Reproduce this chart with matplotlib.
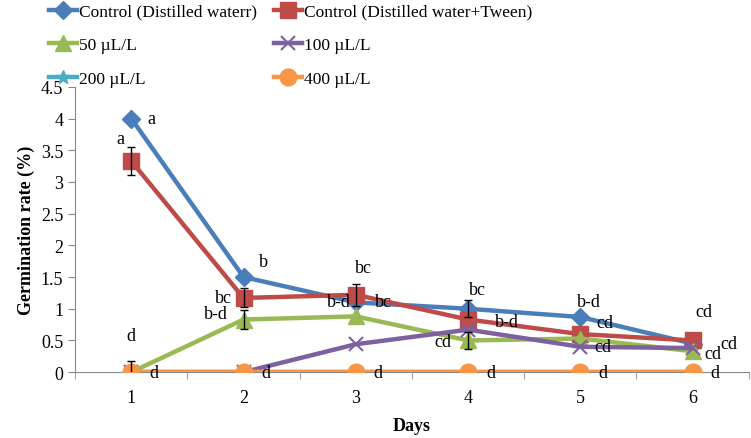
import numpy as np
import matplotlib.pyplot as plt

plt.rcParams['font.family'] = ['Liberation Serif', 'DejaVu Serif']

days = [1, 2, 3, 4, 5, 6]
ctrl_water = [4.0, 1.5, 1.1, 1.0, 0.87, 0.45]
ctrl_tween = [3.33, 1.17, 1.22, 0.83, 0.6, 0.5]
c50 = [0.0, 0.83, 0.88, 0.5, 0.53, 0.33]
c100 = [0.0, 0.0, 0.44, 0.67, 0.4, 0.38]
c200 = [0, 0, 0, 0, 0, 0]
c400 = [0, 0, 0, 0, 0, 0]
err_water = [0, 0, 0, 0.13, 0, 0]
err_tween = [0.22, 0.15, 0.17, 0, 0, 0]
err_50 = [0.17, 0.15, 0, 0.13, 0, 0]

# letter labels: (text, x, y)
letters = [
    ('a', 1.18, 4.0), ('a', 0.9, 3.68), ('b', 2.18, 1.75), ('bc', 1.82, 1.17),
    ('b-d', 1.75, 0.93), ('d', 1.0, 0.58),
    ('bc', 3.07, 1.65), ('b-d', 2.85, 1.12), ('bc', 3.25, 1.12),
    ('bc', 4.08, 1.3), ('b-d', 4.35, 0.8), ('cd', 3.78, 0.48),
    ('b-d', 5.08, 1.12), ('cd', 5.22, 0.78), ('cd', 5.2, 0.4),
    ('cd', 6.1, 0.95), ('cd', 6.32, 0.45), ('cd', 6.18, 0.3),
]

fig = plt.figure(figsize=(7.51, 4.39), dpi=100)
ax = fig.add_axes([0.1, 0.15, 0.897, 0.65])

lw = 3.2
h1, = ax.plot(days, ctrl_water, color='#4a7ebb', lw=lw, marker='D', ms=9, zorder=3,
              label='Control (Distilled waterr)')
h2, = ax.plot(days, ctrl_tween, color='#be4b48', lw=lw, marker='s', ms=11, zorder=3,
              label='Control (Distilled water+Tween)')
h3, = ax.plot(days, c50, color='#98b954', lw=lw, marker='^', ms=11, zorder=3,
              label='50 µL/L')
h4, = ax.plot(days, c100, color='#7d60a0', lw=lw, marker='x', ms=10, mew=1.5, zorder=3,
              label='100 µL/L')
h5, = ax.plot(days, c200, color='#4bacc6', lw=lw, marker='*', ms=10, zorder=3,
              label='200 µL/L')
h6, = ax.plot(days, c400, color='#f79646', lw=lw, marker='o', ms=12, zorder=4,
              label='400 µL/L')

# error bars only where there is one
for vals, errs in [(ctrl_water, err_water), (ctrl_tween, err_tween), (c50, err_50)]:
    idx = [i for i, e in enumerate(errs) if e > 0]
    ax.errorbar([days[i] for i in idx], [vals[i] for i in idx],
                yerr=[errs[i] for i in idx], fmt='none', ecolor='black',
                elinewidth=1, capsize=3, zorder=5)

for t, x, y in letters:
    ax.text(x, y, t, fontsize=13, ha='center', va='center', zorder=6)
for d in days:
    ax.text(d + 0.2, 0, 'd', fontsize=13, ha='center', va='center', zorder=6)

ax.set_xlim(0.5, 6.5)
ax.set_ylim(0, 4.5)
ax.set_yticks(np.arange(0, 4.51, 0.5))
ax.set_yticklabels(['0', '0.5', '1', '1.5', '2', '2.5', '3', '3.5', '4', '4.5'])
ax.set_xticks(days)
ax.set_xticks(np.arange(0.5, 6.6, 1), minor=True)
ax.tick_params(axis='x', which='major', length=0, labelsize=13, pad=12)
ax.tick_params(axis='x', which='minor', length=5, color='#888888')
ax.tick_params(axis='y', labelsize=13, length=5, color='#888888')
for s in ['top', 'right']:
    ax.spines[s].set_visible(False)
ax.spines['left'].set_color('#888888')
ax.spines['bottom'].set_color('#888888')

ax.set_xlabel('Days', fontsize=13, fontweight='bold', labelpad=8)
ax.set_ylabel('Germination rate (%)', fontsize=13, fontweight='bold')

# row-wise order like the original
fig.legend(handles=[h1, h3, h5, h2, h4, h6], loc='upper left',
           bbox_to_anchor=(0.045, 1.025), ncol=2, frameon=False,
           fontsize=12.5, handlelength=1.6, handletextpad=0.1, columnspacing=1.0,
           labelspacing=1.0)

fig.savefig('out.png', dpi=100)
